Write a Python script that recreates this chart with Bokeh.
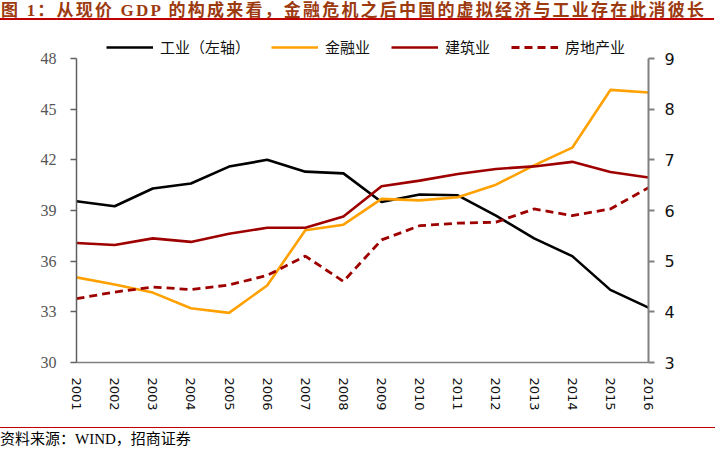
import math
from bokeh.plotting import figure
from bokeh.models import (Range1d, LinearAxis, FixedTicker, Legend, LegendItem, Div)
from bokeh.layouts import column
from bokeh.embed import file_html
from bokeh.resources import INLINE

# ---- data ----
years = [2001, 2002, 2003, 2004, 2005, 2006, 2007, 2008,
         2009, 2010, 2011, 2012, 2013, 2014, 2015, 2016]
industry = [39.55, 39.25, 40.3, 40.6, 41.6, 42.0, 41.3, 41.2,
            39.5, 39.95, 39.9, 38.7, 37.35, 36.3, 34.3, 33.25]          # left axis
finance = [4.68, 4.54, 4.38, 4.07, 3.98, 4.52, 5.61, 5.72,
           6.23, 6.20, 6.26, 6.51, 6.89, 7.24, 8.38, 8.33]             # right axis
construction = [5.36, 5.32, 5.45, 5.38, 5.54, 5.66, 5.66, 5.88,
                6.48, 6.59, 6.72, 6.82, 6.87, 6.96, 6.76, 6.65]         # right axis
realestate = [4.26, 4.39, 4.49, 4.44, 4.53, 4.72, 5.10, 4.60,
              5.42, 5.70, 5.75, 5.77, 6.03, 5.90, 6.03, 6.45]           # right axis
left_ticks = [30, 33, 36, 39, 42, 45, 48]
right_ticks = [3, 4, 5, 6, 7, 8, 9]
series_names = ["工业（左轴）", "金融业", "建筑业", "房地产业"]
title_text = "图 1：从现价 GDP 的构成来看，金融危机之后中国的虚拟经济与工业存在此消彼长"
source_text = "资料来源：WIND，招商证券"

RED = "#C00000"
DARKRED = "#9E0000"
ORANGE = "#FFA100"

W = 715
TITLE_H = 25
FIG_H = 402
SRC_H = 22
AXIS_H = 304          # pixel height of the 30..48 axis span
LEGEND_H = 26         # extra frame room above the axes for the legend
FRAME_H = AXIS_H + LEGEND_H
left_lo, left_hi = left_ticks[0], left_ticks[-1]
right_lo, right_hi = right_ticks[0], right_ticks[-1]
left_top = left_hi + (left_hi - left_lo) * LEGEND_H / AXIS_H
right_top = right_hi + (right_hi - right_lo) * LEGEND_H / AXIS_H

title_div = Div(
    text=('<div style="font-family:\'Liberation Serif\',\'Noto Sans CJK SC\';font-weight:bold;'
          'font-size:17px;line-height:19px;color:#9C3A10;white-space:nowrap;letter-spacing:2.2px;'
          'padding-left:1px;padding-top:1px;height:20px;border-bottom:2px solid %s;'
          'width:%dpx;overflow:hidden;">%s</div>' % (RED, W - 1, title_text)),
    width=W, height=TITLE_H, margin=0)

top_border = 58 - TITLE_H - LEGEND_H
p = figure(width=W, height=FIG_H, output_backend="svg", toolbar_location=None,
           x_range=Range1d(years[0], years[-1]), y_range=Range1d(left_lo, left_top),
           min_border_left=76, min_border_right=W - 648, min_border_top=top_border,
           min_border_bottom=FIG_H - top_border - FRAME_H)
p.extra_y_ranges = {"right": Range1d(right_lo, right_top)}
p.outline_line_color = None
p.xgrid.visible = False
p.ygrid.visible = False
p.background_fill_color = "white"

r1 = p.line(years, industry, line_color="black", line_width=2.6)
r2 = p.line(years, finance, line_color=ORANGE, line_width=2.6, y_range_name="right")
r3 = p.line(years, construction, line_color=DARKRED, line_width=2.6, y_range_name="right")
r4 = p.line(years, realestate, line_color=DARKRED, line_width=2.8, line_dash="8 5",
            y_range_name="right")

# bottom axis
xa = p.xaxis[0]
xa.ticker = FixedTicker(ticks=years)
xa.major_label_orientation = -math.pi / 2
xa.major_tick_line_color = None
xa.minor_tick_line_color = None
xa.axis_line_color = "#808080"
xa.axis_line_width = 1.5
xa.major_label_standoff = 9
xa.major_label_text_font = "DejaVu Sans"
xa.major_label_text_font_size = "13px"
xa.major_label_text_color = "#111111"

# left axis
ya = p.yaxis[0]
ya.ticker = FixedTicker(ticks=left_ticks)
ya.bounds = (left_lo, left_hi)
ya.axis_line_color = "#606060"
ya.axis_line_width = 1.5
ya.major_tick_line_color = "#606060"
ya.major_tick_line_width = 1.5
ya.major_tick_out = 6
ya.major_tick_in = 0
ya.minor_tick_line_color = None
ya.major_label_standoff = 14
ya.major_label_text_font = "Liberation Serif"
ya.major_label_text_font_size = "16px"
ya.major_label_text_color = "#555555"

# right axis
ra = LinearAxis(y_range_name="right", ticker=FixedTicker(ticks=right_ticks),
                bounds=(right_lo, right_hi))
ra.axis_line_color = "#808080"
ra.axis_line_width = 2
ra.major_tick_line_color = "#808080"
ra.major_tick_line_width = 2
ra.major_tick_out = 6
ra.major_tick_in = 0
ra.minor_tick_line_color = None
ra.major_label_standoff = 10
ra.major_label_text_font = "DejaVu Sans"
ra.major_label_text_font_size = "16px"
ra.major_label_text_color = "#111111"
p.add_layout(ra, "right")

# legend: tuple location gives the legend's bottom-left corner inside the frame
legend = Legend(items=[LegendItem(label=series_names[0], renderers=[r1]),
                       LegendItem(label=series_names[1], renderers=[r2]),
                       LegendItem(label=series_names[2], renderers=[r3]),
                       LegendItem(label=series_names[3], renderers=[r4])],
                orientation="horizontal", location=(30, FRAME_H - 25),
                label_text_font="Noto Sans CJK SC", label_text_font_size="15px",
                label_text_color="#111111",
                glyph_width=47, glyph_height=18, label_height=18, label_standoff=7, spacing=21,
                padding=0, margin=0, border_line_color=None, background_fill_alpha=0)
p.add_layout(legend)

source_div = Div(
    text=('<div style="font-family:\'Liberation Serif\',\'Noto Sans CJK SC\';font-size:15px;'
          'line-height:16px;color:#000000;white-space:nowrap;border-top:1.5px solid %s;'
          'width:%dpx;padding-top:3px;">%s</div>' % (RED, W, source_text)),
    width=W, height=SRC_H, margin=0)

layout = column(title_div, p, source_div, spacing=0)

open("out.html", "w").write(file_html(layout, INLINE))
